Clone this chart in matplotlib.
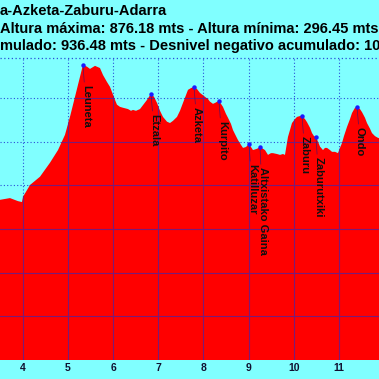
import matplotlib
matplotlib.use("Agg")
import matplotlib.pyplot as plt
import numpy as np

# ---- data ----
km = [3.40, 3.498, 3.719, 3.896, 3.984, 4.007, 4.162, 4.383, 4.604, 4.781, 4.936,
      5.046, 5.157, 5.268, 5.334, 5.423, 5.489, 5.600, 5.710, 5.777, 5.865, 5.931,
      6.042, 6.086, 6.153, 6.219, 6.330, 6.396, 6.440, 6.507, 6.595, 6.684, 6.750,
      6.839, 6.905, 6.972, 7.038, 7.104, 7.193, 7.259, 7.325, 7.414, 7.480, 7.546,
      7.657, 7.723, 7.790, 7.856, 7.922, 8.033, 8.099, 8.143, 8.210, 8.254, 8.342,
      8.387, 8.431, 8.497, 8.542, 8.608, 8.652, 8.719, 8.763, 8.829, 8.874, 8.940,
      9.007, 9.051, 9.095, 9.184, 9.250, 9.316, 9.361, 9.427, 9.493, 9.538, 9.626,
      9.693, 9.759, 9.803, 9.869, 9.958, 10.024, 10.069, 10.135, 10.180, 10.246,
      10.290, 10.357, 10.401, 10.445, 10.490, 10.534, 10.578, 10.644, 10.688, 10.733,
      10.799, 10.843, 10.910, 10.976, 11.020, 11.064, 11.108, 11.175, 11.241, 11.286,
      11.352, 11.396, 11.462, 11.507, 11.573, 11.617, 11.684, 11.728, 11.794, 11.861,
      11.930]
elev = [565, 567, 571, 564, 562, 574, 601, 620, 652, 681, 716,
        757, 803, 849, 876.18, 872, 867, 874, 869, 853, 837, 826,
        796, 785, 780, 778, 775, 771, 773, 771, 775, 787, 796,
        810, 803, 789, 771, 757, 746, 743, 748, 757, 771, 789,
        819, 823, 826, 821, 812, 803, 798, 792, 787, 789, 794,
        787, 780, 764, 755, 741, 727, 713, 704, 693, 686, 688,
        695, 688, 681, 684, 688, 684, 681, 670, 674, 674, 672,
        670, 672, 670, 711, 743, 752, 757, 759, 759, 752,
        745, 732, 720, 713, 711, 700, 689, 681, 686, 686,
        681, 677, 677, 674, 686, 697, 713, 734, 752, 766,
        778, 780, 775, 768, 755, 743, 730, 720, 713, 709,
        707]

peak_names = ["Leuneta", "Etzala", "Azketa", "Kurpito", "Katilluzar",
              "Altxistako Gaina", "Zaburu", "Zaburutxiki", "Ondo"]
peak_km = [5.334, 6.839, 7.790, 8.342, 9.007, 9.250, 10.180, 10.490, 11.396]
peak_elev = [876.18, 810, 826, 794, 695, 688, 759, 711, 780]

x_ticks = [4, 5, 6, 7, 8, 9, 10, 11]
y_grid = [300, 400, 500, 600, 700, 800]

title_lines = ["a-Azketa-Zaburu-Adarra",
               "Altura máxima: 876.18 mts - Altura mínima: 296.45 mts",
               "mulado: 936.48 mts - Desnivel negativo acumulado: 1016.21 mts"]

# ---- style ----
W = H = 379
dpi = 100
bg = "#80FFFF"
plt.rcParams['font.family'] = ['Liberation Sans', 'DejaVu Sans']

fig = plt.figure(figsize=(W / dpi, H / dpi), dpi=dpi, facecolor=bg)
ax = fig.add_axes([0, 1 - 360 / H, 1, (360 - 58) / H])
ax.set_facecolor(bg)
ax.set_xlim(3.498, 11.883)
ax.set_ylim(200, 892)

# grid under fill (dotted blue)
for xv in x_ticks:
    ax.axvline(xv, color="#2a4fd8", lw=0.8, ls=(0, (1, 2)), zorder=1)
for yv in y_grid:
    ax.axhline(yv, color="#2a4fd8", lw=0.8, ls=(0, (1, 2)), zorder=1)
ax.axhline(892, color="#2a4fd8", lw=0.9, ls=(0, (1, 2)), zorder=1, clip_on=False)

fill = ax.fill_between(km, elev, 200, color="#FF0000", lw=0, zorder=2)
clip = fill.get_paths()[0]

# grid over fill (solid purple, clipped to the profile)
for xv in x_ticks:
    ln = ax.axvline(xv, color="#7a1a78", lw=0.8, zorder=3)
    ln.set_clip_path(clip, ax.transData)
for yv in y_grid:
    ln = ax.axhline(yv, color="#7a1a78", lw=0.8, zorder=3)
    ln.set_clip_path(clip, ax.transData)

# peaks
px = 0.72  # points per pixel
for name, pk, pe in zip(peak_names, peak_km, peak_elev):
    ax.annotate(name, xy=(pk, pe), xytext=(3 * px, -20 * px),
                textcoords="offset points", rotation=-90,
                ha="center", va="top", fontsize=8, fontweight="bold",
                color="#101010", zorder=5,
                arrowprops=dict(arrowstyle="-", color="#5a1060", lw=0.5,
                                shrinkA=0, shrinkB=0))
ax.plot(peak_km, peak_elev, "o", color="#1a1aff", ms=3.2, mec="none", zorder=6)

ax.set_xticks(x_ticks)
ax.set_xticklabels([str(t) for t in x_ticks], fontsize=7.5, fontweight="bold",
                   color="#101030")
ax.set_yticks([])
ax.tick_params(axis="x", length=0, pad=2.5)
for s in ax.spines.values():
    s.set_visible(False)

# titles
baselines = [15, 32.7, 50]
for txt, b in zip(title_lines, baselines):
    fig.text(0 / W, 1 - b / H, txt, ha="left", va="baseline",
             fontsize=10.5, fontweight="bold", color="black")

fig.savefig("out.png", dpi=dpi, facecolor=bg)
